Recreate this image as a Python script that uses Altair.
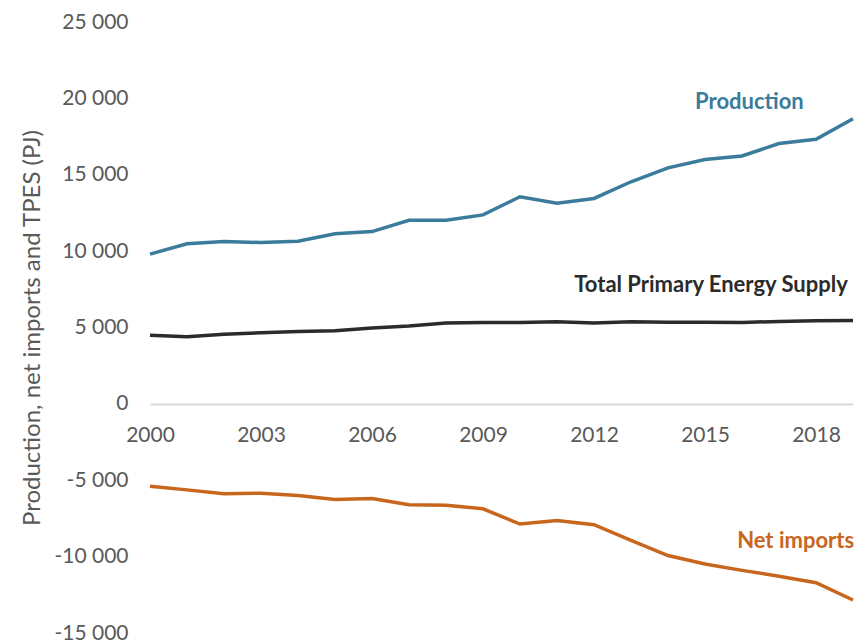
import altair as alt
import pandas as pd

years = list(range(2000, 2020))
production = [9800, 10480, 10630, 10560, 10650, 11130, 11280, 12020, 12020, 12370,
              13560, 13130, 13450, 14540, 15450, 16000, 16230, 17040, 17320, 18670]
tpes = [4500, 4390, 4560, 4650, 4740, 4780, 4960, 5100, 5300, 5320,
        5330, 5380, 5300, 5380, 5350, 5350, 5330, 5400, 5450, 5460]
net_imports = [-5390, -5630, -5890, -5850, -6000, -6260, -6190, -6610, -6630, -6870,
               -7870, -7630, -7910, -8930, -9930, -10480, -10900, -11280, -11710, -12840]

series_names = ["Production", "Total Primary Energy Supply", "Net imports"]
series_colors = ["#3B7B9B", "#2B2B2B", "#C8661E"]

x_ticks = [2000, 2003, 2006, 2009, 2012, 2015, 2018]
y_ticks = [-15000, -10000, -5000, 0, 5000, 10000, 15000, 20000, 25000]

label_text = ["Production", "Total Primary Energy Supply", "Net imports"]
label_x = [2016.2, 2018.86, 2019.03]
label_y = [19750, 7750, -8950]
label_align = ["center", "right", "right"]

rows = []
for name, vals in zip(series_names, [production, tpes, net_imports]):
    for yr, v in zip(years, vals):
        rows.append({"year": yr, "value": v, "series": name})
df = pd.DataFrame(rows)

labels = pd.DataFrame({"text": label_text, "x": label_x, "y": label_y,
                       "series": series_names, "align": label_align})

H = 611
W = 703
zero_offset = -H * 15000 / 40000

color_scale = alt.Scale(domain=series_names, range=series_colors)

x_enc = alt.X("year:Q", scale=alt.Scale(domain=[2000, 2019], nice=False, zero=False),
              axis=alt.Axis(values=x_ticks, format="d", title=None, grid=False,
                            ticks=False, offset=zero_offset, domainColor="#D9D9D9",
                            domainWidth=2, labelFontSize=21, labelColor="#595959",
                            labelFont="Lato", labelPadding=21, labelFlush=False))
y_enc = alt.Y("value:Q", scale=alt.Scale(domain=[-15000, 25000], nice=False),
              axis=alt.Axis(values=y_ticks, grid=False, ticks=False, domain=False,
                            title="Production, net imports and TPES (PJ)",
                            titleFontSize=24, titleFont="Lato", titleColor="#595959",
                            titleFontWeight="normal", titlePadding=9,
                            labelFontSize=21, labelColor="#595959", labelFont="Lato",
                            labelPadding=22,
                            labelExpr="(datum.value < 0 ? '-' : '') + replace(format(abs(datum.value), ','), ',', ' ')"))

lines = alt.Chart(df).mark_line(strokeWidth=3.5).encode(
    x=x_enc, y=y_enc,
    color=alt.Color("series:N", scale=color_scale, legend=None),
    detail="series:N",
)

def lab(i):
    return alt.Chart(labels.iloc[[i]]).mark_text(
        font="Lato", fontSize=22, fontWeight="bold", align=label_align[i], baseline="middle"
    ).encode(
        x=alt.X("x:Q"), y=alt.Y("y:Q"), text="text:N",
        color=alt.Color("series:N", scale=color_scale, legend=None),
    )

chart = alt.layer(lines, lab(0), lab(1), lab(2)).properties(
    width=W, height=H,
    background="white",
    autosize=alt.AutoSizeParams(type="none"),
    padding={"left": 142, "top": 14, "right": 6, "bottom": 12},
).configure_view(stroke=None)

chart.save("out.html", embed_options={"renderer": "svg", "actions": False})
